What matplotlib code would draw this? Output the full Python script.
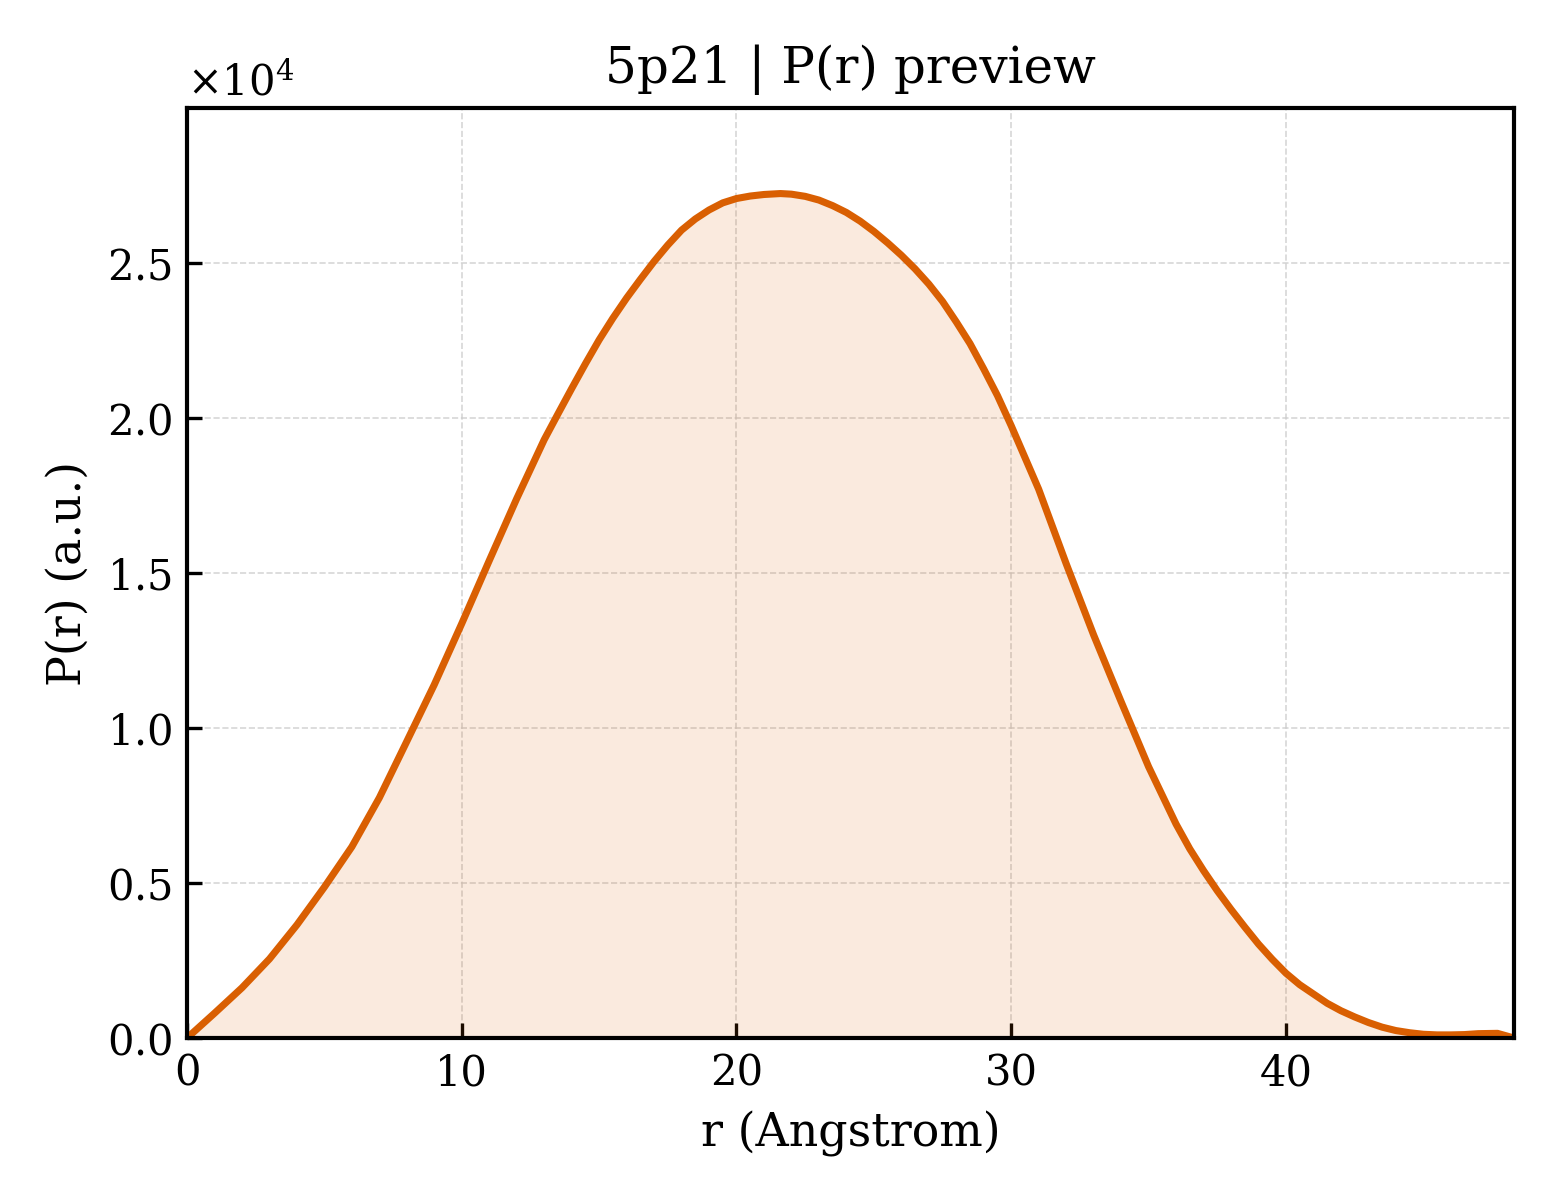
import matplotlib
matplotlib.use("Agg")
import matplotlib.pyplot as plt
import numpy as np

# Data (P(r) in units of 1e4)
r_values = [0, 1, 2, 3, 4, 5, 6, 7, 8, 9, 10, 11, 12, 13, 13.5, 14, 14.5, 15, 15.5,
            16, 16.5, 17, 17.5, 18, 18.5, 19, 19.5, 20, 20.5, 21, 21.6, 22, 22.5,
            23, 23.5, 24, 24.5, 25, 25.5, 26, 26.5, 27, 27.5, 28, 28.5, 29, 29.5,
            30, 31, 32, 33, 34, 35, 36, 36.5, 37, 37.5, 38, 38.5, 39, 39.5, 40,
            40.5, 41, 41.5, 42, 42.5, 43, 43.5, 44, 44.5, 45, 45.5, 46, 46.5, 47,
            47.7, 48.3]
p_values_1e4 = [0.0, 0.08, 0.162, 0.255, 0.365, 0.487, 0.617, 0.775, 0.957, 1.14,
                1.337, 1.54, 1.74, 1.93, 2.013, 2.095, 2.175, 2.252, 2.322,
                2.387, 2.447, 2.505, 2.558, 2.606, 2.642, 2.671, 2.694, 2.708, 2.716,
                2.721, 2.724, 2.722, 2.715,
                2.703, 2.685, 2.663, 2.635, 2.602, 2.565, 2.525, 2.481, 2.432, 2.376,
                2.31, 2.24, 2.158, 2.072,
                1.975, 1.77, 1.53, 1.30, 1.085, 0.875, 0.69, 0.61, 0.54, 0.475,
                0.415, 0.358, 0.303, 0.254, 0.209,
                0.172, 0.142, 0.112, 0.088, 0.068, 0.05, 0.035, 0.024, 0.017,
                0.012, 0.010, 0.010, 0.011, 0.014,
                0.015, 0.0]

title_text = "5p21 | P(r) preview"
x_label = "r (Angstrom)"
y_label = "P(r) (a.u.)"

r = np.array(r_values)
p = np.array(p_values_1e4) * 1e4

plt.rcParams['font.family'] = ['DejaVu Serif']
plt.rcParams['mathtext.fontset'] = 'dejavuserif'

fig = plt.figure(figsize=(5.2, 4.0), dpi=300)
ax = fig.add_axes([0.1199, 0.135, 0.9705 - 0.1199, 0.91 - 0.135])

color = "#d95f02"
ax.fill_between(r, p, 0, color=color, alpha=0.13, linewidth=0)
ax.plot(r, p, color=color, linewidth=1.7, solid_joinstyle='round')

ax.set_xlim(0, 48.3)
ax.set_ylim(0, 30000)
ax.set_yticks([0, 5000, 10000, 15000, 20000, 25000])
ax.set_xticks([0, 10, 20, 30, 40])
ax.ticklabel_format(axis='y', style='sci', scilimits=(0, 0), useMathText=True)
ax.yaxis.get_offset_text().set_fontsize(10)

ax.grid(True, linestyle='--', linewidth=0.4, color='#cccccc', alpha=0.8)
ax.set_axisbelow(True)

ax.tick_params(direction='in', length=3.5, width=0.8, labelsize=10)
for s in ax.spines.values():
    s.set_linewidth(1.0)

ax.set_xlabel(x_label, fontsize=11)
ax.set_ylabel(y_label, fontsize=11)
ax.set_title(title_text, fontsize=12)

fig.savefig("out.png", dpi=300)
